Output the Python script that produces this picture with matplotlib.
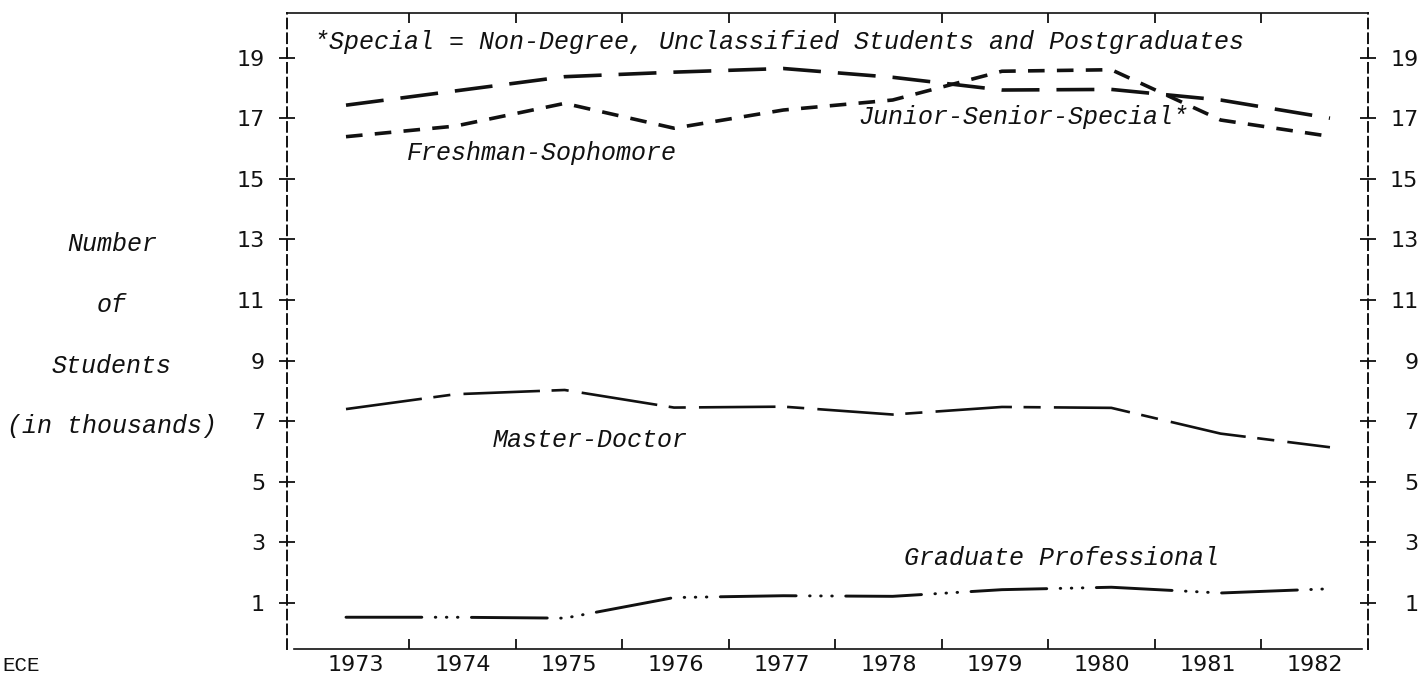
import matplotlib
matplotlib.use('Agg')
import matplotlib.pyplot as plt
import matplotlib.transforms as mtransforms
from matplotlib.ticker import FixedLocator, NullFormatter

# ---------------- data ----------------
years = [1973, 1974, 1975, 1976, 1977, 1978, 1979, 1980, 1981, 1982]
junior_senior_special = [17.43, 17.9, 18.37, 18.52, 18.64, 18.35, 17.93, 17.95, 17.6, 17.0]
freshman_sophomore = [16.39, 16.74, 17.49, 16.67, 17.27, 17.6, 18.55, 18.6, 16.94, 16.4]
master_doctor = [7.4, 7.89, 8.03, 7.45, 7.48, 7.22, 7.47, 7.44, 6.59, 6.14]
graduate_professional = [0.53, 0.53, 0.5, 1.18, 1.24, 1.22, 1.44, 1.52, 1.33, 1.47]
y_tick_values = [1, 3, 5, 7, 9, 11, 13, 15, 17, 19]
year_labels = [str(y) for y in years]
note_text = "*Special = Non-Degree, Unclassified Students and Postgraduates"
series_labels = ["Freshman-Sophomore", "Junior-Senior-Special*", "Master-Doctor", "Graduate Professional"]
y_title_lines = ["Number", "of", "Students", "(in thousands)"]

W, H, DPI = 1423, 676, 100
fig = plt.figure(figsize=(W / DPI, H / DPI), dpi=DPI)
fig.patch.set_facecolor('white')

# ---------------- layout (pixels) ----------------
left_px, right_px, top_px, bottom_px = 287, 1368, 13, 649
X0_PX, PX_PER_YEAR = 346, 109.33       # where the first year sits, spacing of data points
LABEL0_PX, LABEL_STEP_PX = 356, 106.5  # typed year labels
Y1_PX, PX_PER_UNIT = 603, 30.3

def px2x(px):
    return years[0] + (px - X0_PX) / PX_PER_YEAR

def py2y(py):
    return 1 + (Y1_PX - py) / PX_PER_UNIT

ax = fig.add_axes([left_px / W, 1 - bottom_px / H, (right_px - left_px) / W, (bottom_px - top_px) / H])
ax.set_xlim(px2x(left_px), px2x(right_px))
ax.set_ylim(py2y(bottom_px), py2y(top_px))

ink = '#111111'
mono_it = dict(family='Liberation Mono', style='italic', color=ink, fontsize=18)

ax.plot(years, junior_senior_special, color=ink, lw=2.6, dashes=(10.5, 4.7), dash_capstyle='butt')
ax.plot(years, freshman_sophomore, color=ink, lw=2.6, dashes=(4.6, 3.4), dash_capstyle='butt')
ax.plot(years, master_doctor, color=ink, lw=1.9, dashes=(29, 4.4, 6.5, 5), dash_capstyle='butt')
ax.plot(years, graduate_professional, color=ink, lw=2.1,
        dashes=(26, 4.6, 0.2, 3.6, 0.2, 3.6, 0.2, 4.6), dash_capstyle='round')

# ---------------- frame ----------------
for s in ['left', 'right']:
    ax.spines[s].set_linestyle((0, (5.0, 2.6)))
    ax.spines[s].set_linewidth(1.4)
    ax.spines[s].set_color(ink)
for s in ['top', 'bottom']:
    ax.spines[s].set_linewidth(1.2)
    ax.spines[s].set_color(ink)
ax.spines['bottom'].set_bounds(px2x(294), px2x(1362))

# x: labels centred between tick marks
label_pos = [px2x(LABEL0_PX + k * LABEL_STEP_PX) for k in range(len(years))]
tick_pos = [px2x(LABEL0_PX + (k + 0.5) * LABEL_STEP_PX) for k in range(len(years) - 1)]
ax.set_xticks(label_pos, labels=year_labels)
ax.xaxis.set_minor_locator(FixedLocator(tick_pos))
ax.xaxis.set_minor_formatter(NullFormatter())
ax.tick_params(axis='x', which='major', length=0, pad=4, labelsize=16, labelcolor=ink)
ax.tick_params(axis='x', which='minor', direction='in', length=7.5, width=1.3, color=ink,
               top=True, bottom=True)

# y: crosses on both dashed borders
ax.set_yticks(y_tick_values)
ax.tick_params(axis='y', which='major', direction='inout', length=11.5, width=1.3, color=ink,
               left=True, right=True, labelleft=True, labelright=True, labelsize=16,
               labelcolor=ink, pad=10)
offset = mtransforms.ScaledTranslation(20.5 / 72, 0, fig.dpi_scale_trans)
for t in ax.yaxis.get_major_ticks():
    t.label2.set_horizontalalignment('right')
    t.label2.set_transform(t.label2.get_transform() + offset)

# ---------------- annotations ----------------
ax.text(px2x(314), py2y(42), note_text, ha='left', va='center', **mono_it)
ax.text(px2x(407), py2y(153), series_labels[0], ha='left', va='center', **mono_it)
ax.text(px2x(858), py2y(117), series_labels[1], ha='left', va='center', **mono_it)
ax.text(px2x(493), py2y(440), series_labels[2], ha='left', va='center', **mono_it)
ax.text(px2x(904), py2y(558), series_labels[3], ha='left', va='center', **mono_it)

for line, py in zip(y_title_lines, [244, 305, 366, 426]):
    fig.text(112 / W, 1 - py / H, line, ha='center', va='center', **mono_it)

fig.text(2 / W, 1 - 675 / H, "ECE", ha='left', va='bottom', family='Liberation Mono', fontsize=15, color=ink)

fig.savefig('out.png', dpi=DPI, facecolor='white')
